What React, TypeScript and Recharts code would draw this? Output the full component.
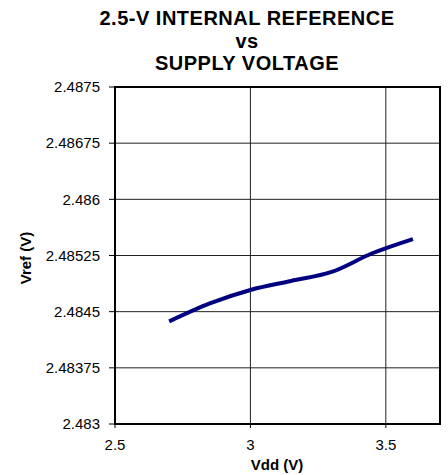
import { LineChart, Line, XAxis, YAxis, CartesianGrid, ReferenceArea } from 'recharts';

const vdd = [2.7, 2.85, 3.0, 3.15, 3.3, 3.45, 3.6];
const vref = [2.48437, 2.48461, 2.48479, 2.48491, 2.48503, 2.48528, 2.48547];
const yTicks = [2.483, 2.48375, 2.4845, 2.48525, 2.486, 2.48675, 2.4875];
const xTicks = [2.5, 3, 3.5];
const titleLines = ['2.5-V INTERNAL REFERENCE', 'vs', 'SUPPLY VOLTAGE'];

const data = vdd.map((v, i) => ({ vdd: v, vref: vref[i] }));
const font = '"Liberation Sans", Arial, sans-serif';

export default function App() {
  return (
    <div style={{ position: 'absolute', left: 0, top: 0, width: 448, height: 475, background: '#fff', fontFamily: font }}>
      <div style={{ position: 'absolute', left: 47, width: 400, top: 7, textAlign: 'center', fontWeight: 'bold', fontSize: 20, lineHeight: '22.5px', letterSpacing: 0.5, color: '#000' }}>
        {titleLines.map(t => <div key={t}>{t}</div>)}
      </div>
      <LineChart width={448} height={475} data={data} margin={{ top: 87, right: 8, bottom: 0, left: 0 }}>
        <CartesianGrid stroke="#222" strokeWidth={1} verticalValues={xTicks} horizontalValues={yTicks} />
        <XAxis
          dataKey="vdd"
          type="number"
          domain={[2.5, 3.7]}
          ticks={xTicks}
          height={51}
          tickSize={4}
          tickMargin={11}
          axisLine={{ stroke: '#000', strokeWidth: 2 }}
          tickLine={{ stroke: '#000' }}
          tick={{ fill: '#000', fontSize: 15, fontFamily: font }}
          label={{
            content: () => (
              <text x={277} y={470} textAnchor="middle" fontWeight="bold" fontSize={15} fontFamily={font} fill="#000">Vdd (V)</text>
            ),
          }}
        />
        <YAxis
          type="number"
          domain={[2.483, 2.4875]}
          ticks={yTicks}
          width={115}
          tickSize={6}
          tickMargin={9}
          interval={0}
          tickFormatter={(v: number) => String(+v.toFixed(5))}
          axisLine={{ stroke: '#000', strokeWidth: 2 }}
          tickLine={{ stroke: '#000' }}
          tick={{ fill: '#000', fontSize: 15, fontFamily: font }}
          label={{
            content: () => (
              <text x={25} y={258} transform="rotate(-90 25 258)" textAnchor="middle" dominantBaseline="central" fontWeight="bold" fontSize={15} fontFamily={font} fill="#000">Vref (V)</text>
            ),
          }}
        />
        <ReferenceArea x1={2.5} x2={3.7} y1={2.483} y2={2.4875} stroke="#000" strokeWidth={2} fill="none" fillOpacity={0} />
        <Line type="monotone" dataKey="vref" stroke="#000080" strokeWidth={4} dot={false} isAnimationActive={false} />
      </LineChart>
    </div>
  );
}
